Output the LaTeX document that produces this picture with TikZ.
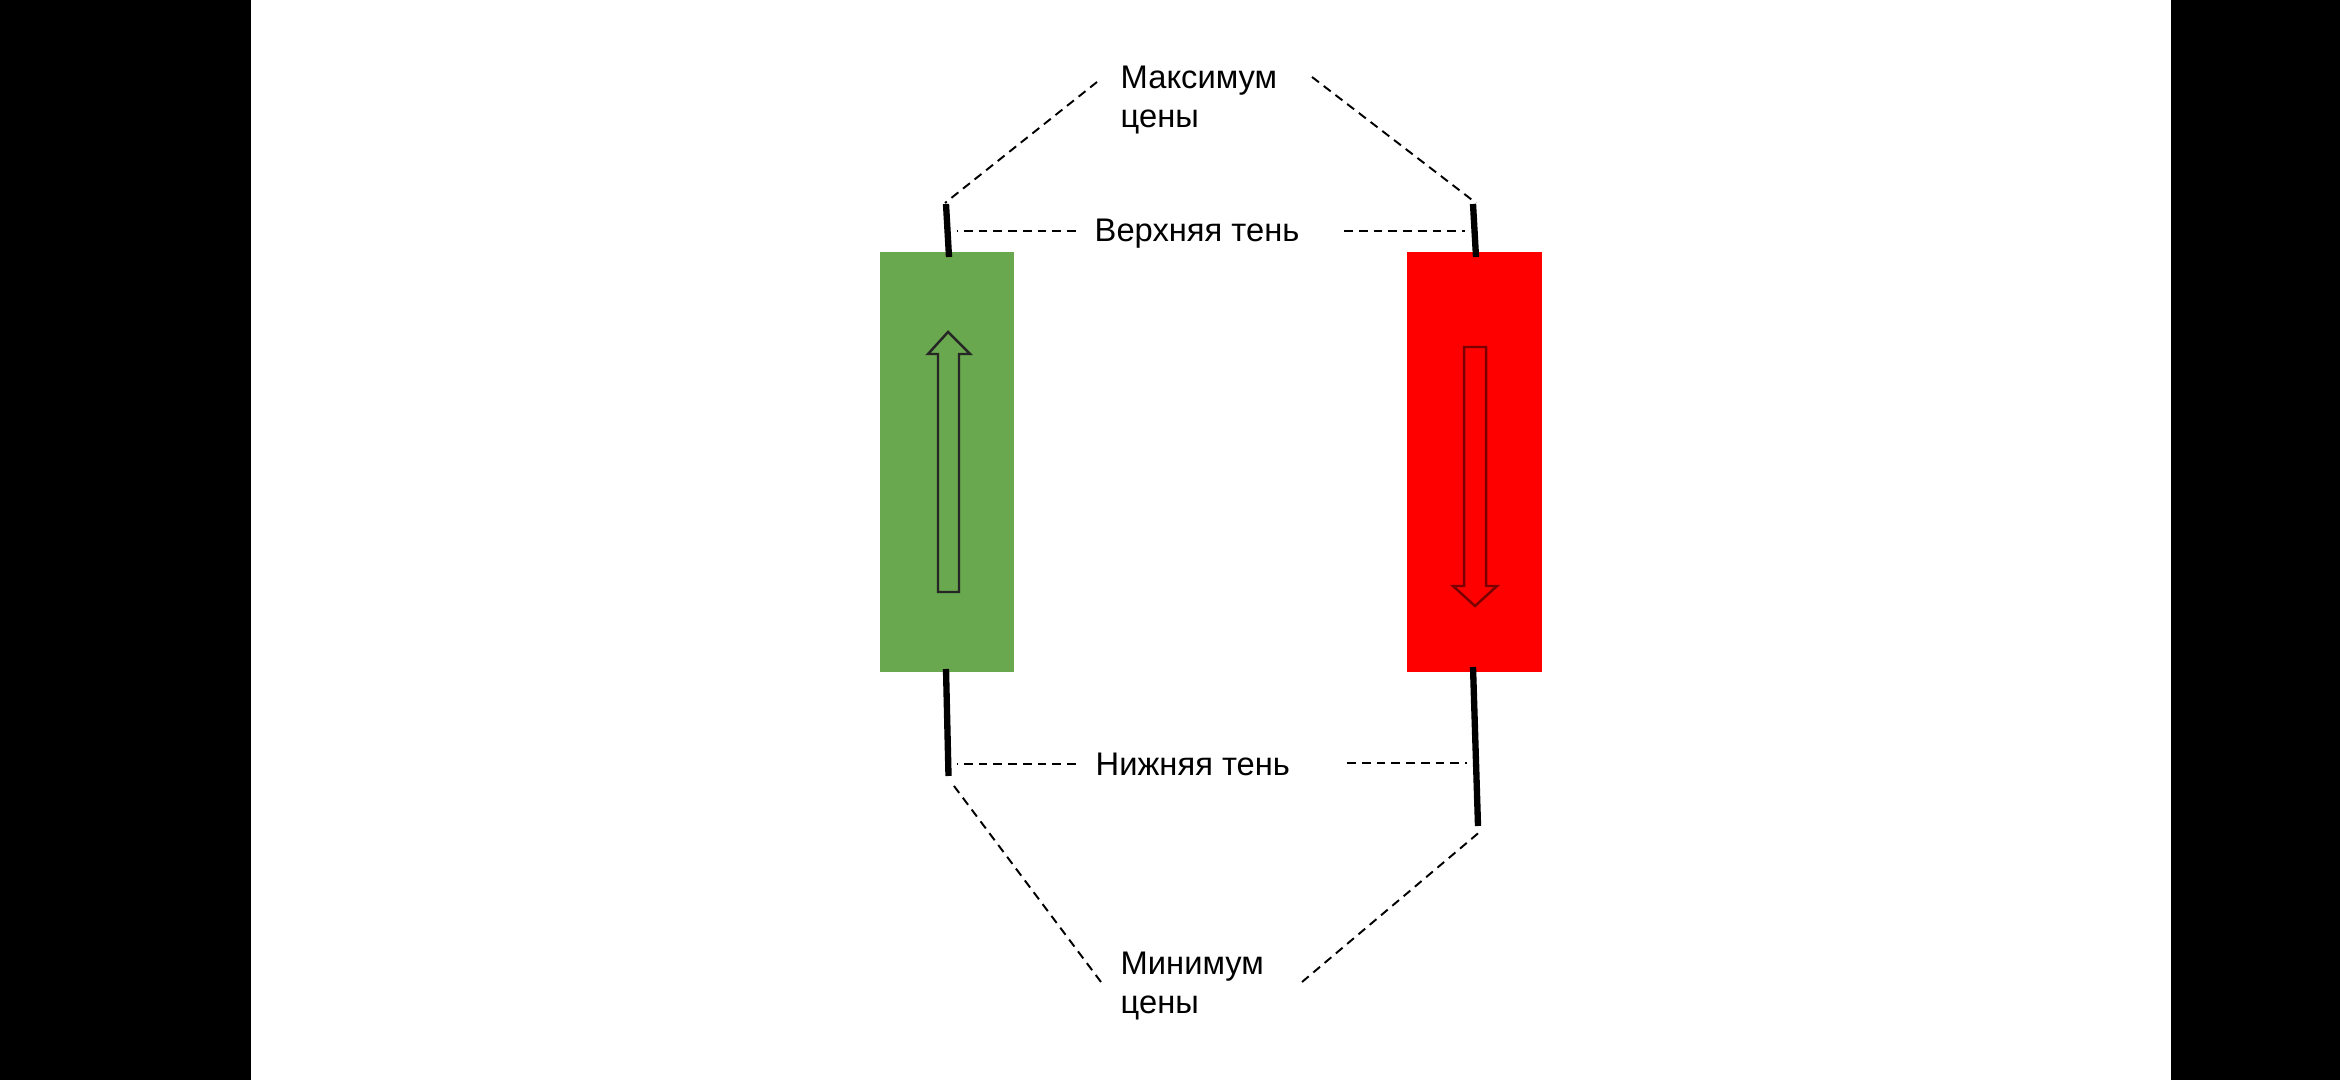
\documentclass[tikz,border=0pt]{standalone}
\usepackage{fontspec}
\setmainfont{Liberation Sans}
\definecolor{cgreen}{HTML}{6AA84F}
\definecolor{cred}{HTML}{FF0000}
\definecolor{darkred}{HTML}{7A0000}
\begin{document}
\begin{tikzpicture}[x=0.01cm,y=-0.01cm,
  lbl/.style={anchor=north west, inner sep=0pt, align=left, font=\fontsize{9.3pt}{11.1pt}\selectfont},
  wick/.style={line width=1.8pt, line cap=butt},
  lead/.style={dash pattern=on 2.5pt off 1.7pt, line width=0.55pt},
  body/.style={inner sep=0pt, minimum width=1.345cm, minimum height=4.2cm, draw=none},
  arr/.style={line width=0.7pt, line join=miter}]
\useasboundingbox (0,0) rectangle (2340,1080);
\fill[black] (0,0) rectangle (251,1080);
\fill[black] (2171,0) rectangle (2340,1080);

% candle bodies
\node (gbox) [body, fill=cgreen] at (947,462) {};
\node (rbox) [body, fill=cred] at (1474.5,462) {};

% wick end points
\coordinate (gtop) at (946,204);
\coordinate (gtopb) at (949,257);
\coordinate (gbot) at (946,669);
\coordinate (gbotb) at (948.5,776);
\coordinate (rtop) at (1473,204);
\coordinate (rtopb) at (1476,257);
\coordinate (rbot) at (1473,667);
\coordinate (rbotb) at (1478,826);

\draw[wick] (gtop) -- (gtopb);
\draw[wick] (gbot) -- (gbotb);
\draw[wick] (rtop) -- (rtopb);
\draw[wick] (rbot) -- (rbotb);

% arrows inside bodies
\draw[arr, draw=black!85] (948,332) -- (970,354) -- (959,354) -- (959,592) -- (938,592) -- (938,354) -- (928,354) -- cycle;
\draw[arr, draw=darkred] (1475,606) -- (1497,586) -- (1486,586) -- (1486,347) -- (1464,347) -- (1464,586) -- (1453,586) -- cycle;

% labels
\node (max) [lbl] at (1120,65) {Максимум\\цены};
\node (up) [lbl] at (1094,218) {Верхняя тень};
\node (low) [lbl] at (1095,752) {Нижняя тень};
\node (min) [lbl] at (1120,951) {Минимум\\цены};

% leader coordinates near labels
\coordinate (maxL) at (1097,82);
\coordinate (maxR) at (1312,77);
\coordinate (upL) at (1076,231);
\coordinate (upR) at (1344,231);
\coordinate (lowL) at (1076,764);
\coordinate (lowR) at (1347,763);
\coordinate (minL) at (1101,982);
\coordinate (minR) at (1302,982);

% leaders
\draw[lead] (maxL) -- (945,203);
\draw[lead] (maxR) -- (1476,203);
\draw[lead] (upL) -- (957,231);
\draw[lead] (upR) -- (1465,231);
\draw[lead] (lowL) -- (957,764);
\draw[lead] (lowR) -- (1467,763);
\draw[lead] (minL) -- (951,782);
\draw[lead] (minR) -- (1482,830);
\end{tikzpicture}
\end{document}
